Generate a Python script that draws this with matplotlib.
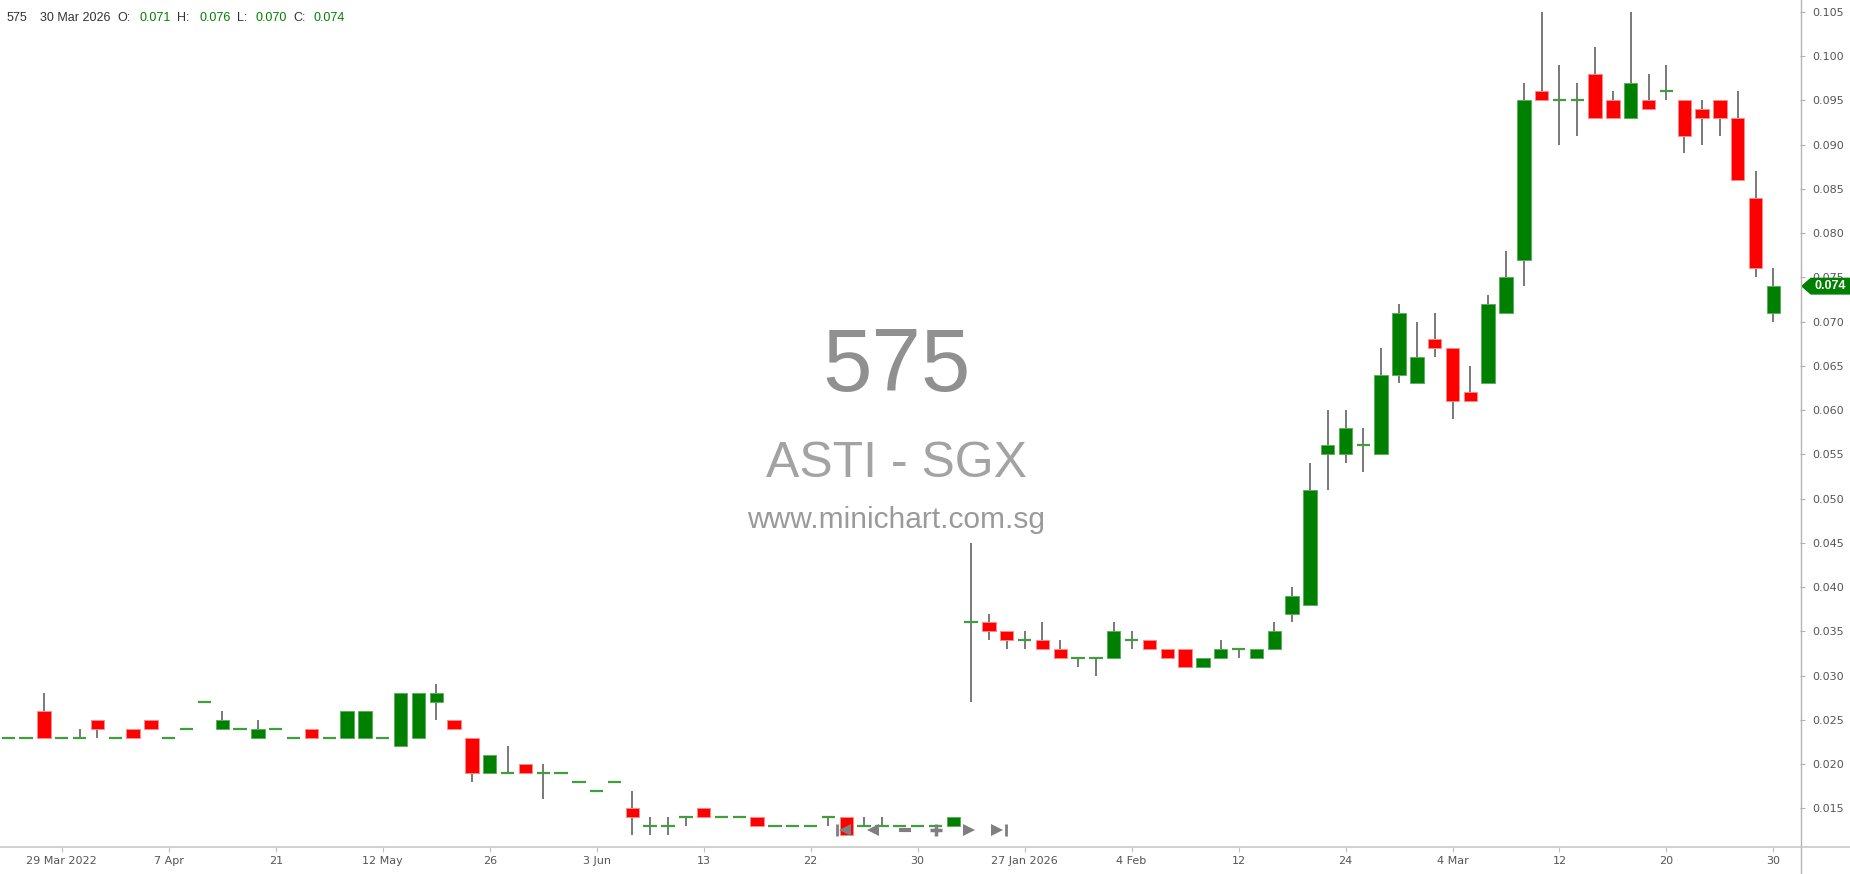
import matplotlib
matplotlib.use('Agg')
import matplotlib.pyplot as plt
import numpy as np
from matplotlib.lines import Line2D
from matplotlib.patches import Polygon
from matplotlib.transforms import blended_transform_factory

# OHLC per trading day (2022 block, then 2026 block after the suspension)
opens = [0.023, 0.023, 0.026, 0.023, 0.023, 0.025, 0.023, 0.024, 0.025, 0.023,
         0.024, 0.027, 0.024, 0.024, 0.023, 0.024, 0.023, 0.024, 0.023, 0.023,
         0.023, 0.023, 0.022, 0.023, 0.027, 0.025, 0.023, 0.019, 0.019, 0.020,
         0.019, 0.019, 0.018, 0.017, 0.018, 0.015, 0.013, 0.013, 0.014, 0.015,
         0.014, 0.014, 0.014, 0.013, 0.013, 0.013, 0.014, 0.014, 0.013, 0.013,
         0.013, 0.013, 0.013, 0.013,
         0.036, 0.036, 0.035, 0.034, 0.034, 0.033, 0.032, 0.032, 0.032, 0.034,
         0.034, 0.033, 0.033, 0.031, 0.032, 0.033, 0.032, 0.033, 0.037, 0.038,
         0.055, 0.055, 0.056, 0.055, 0.064, 0.063, 0.068, 0.067, 0.062, 0.063,
         0.071, 0.077, 0.096, 0.095, 0.095, 0.098, 0.095, 0.093, 0.095, 0.096,
         0.095, 0.094, 0.095, 0.093, 0.084, 0.071]
highs = [0.023, 0.023, 0.028, 0.023, 0.024, 0.025, 0.023, 0.024, 0.025, 0.023,
         0.024, 0.027, 0.026, 0.024, 0.025, 0.024, 0.023, 0.024, 0.023, 0.026,
         0.026, 0.023, 0.028, 0.028, 0.029, 0.025, 0.023, 0.021, 0.022, 0.020,
         0.020, 0.019, 0.018, 0.017, 0.018, 0.017, 0.014, 0.014, 0.014, 0.015,
         0.014, 0.014, 0.014, 0.013, 0.013, 0.013, 0.014, 0.014, 0.014, 0.014,
         0.013, 0.013, 0.013, 0.014,
         0.045, 0.037, 0.035, 0.035, 0.036, 0.034, 0.032, 0.032, 0.036, 0.035,
         0.034, 0.033, 0.033, 0.032, 0.034, 0.033, 0.033, 0.036, 0.040, 0.054,
         0.060, 0.060, 0.058, 0.067, 0.072, 0.070, 0.071, 0.067, 0.065, 0.073,
         0.078, 0.097, 0.105, 0.099, 0.097, 0.101, 0.096, 0.105, 0.098, 0.099,
         0.095, 0.095, 0.095, 0.096, 0.087, 0.076]
lows = [0.023, 0.023, 0.023, 0.023, 0.023, 0.023, 0.023, 0.023, 0.024, 0.023,
        0.024, 0.027, 0.024, 0.024, 0.023, 0.024, 0.023, 0.023, 0.023, 0.023,
        0.023, 0.023, 0.022, 0.023, 0.025, 0.024, 0.018, 0.019, 0.019, 0.019,
        0.016, 0.019, 0.018, 0.017, 0.018, 0.012, 0.012, 0.012, 0.013, 0.014,
        0.014, 0.014, 0.013, 0.013, 0.013, 0.013, 0.013, 0.012, 0.013, 0.013,
        0.013, 0.013, 0.013, 0.013,
        0.027, 0.034, 0.033, 0.033, 0.033, 0.032, 0.031, 0.030, 0.032, 0.033,
        0.033, 0.032, 0.031, 0.031, 0.032, 0.032, 0.032, 0.033, 0.036, 0.038,
        0.051, 0.054, 0.053, 0.055, 0.063, 0.063, 0.066, 0.059, 0.061, 0.063,
        0.071, 0.074, 0.095, 0.090, 0.091, 0.093, 0.093, 0.093, 0.094, 0.095,
        0.089, 0.090, 0.091, 0.086, 0.075, 0.070]
closes = [0.023, 0.023, 0.023, 0.023, 0.023, 0.024, 0.023, 0.023, 0.024, 0.023,
          0.024, 0.027, 0.025, 0.024, 0.024, 0.024, 0.023, 0.023, 0.023, 0.026,
          0.026, 0.023, 0.028, 0.028, 0.028, 0.024, 0.019, 0.021, 0.019, 0.019,
          0.019, 0.019, 0.018, 0.017, 0.018, 0.014, 0.013, 0.013, 0.014, 0.014,
          0.014, 0.014, 0.013, 0.013, 0.013, 0.013, 0.014, 0.012, 0.013, 0.013,
          0.013, 0.013, 0.013, 0.014,
          0.036, 0.035, 0.034, 0.034, 0.033, 0.032, 0.032, 0.032, 0.035, 0.034,
          0.033, 0.032, 0.031, 0.032, 0.033, 0.033, 0.033, 0.035, 0.039, 0.051,
          0.056, 0.058, 0.056, 0.064, 0.071, 0.066, 0.067, 0.061, 0.061, 0.072,
          0.075, 0.095, 0.095, 0.095, 0.095, 0.093, 0.093, 0.097, 0.094, 0.096,
          0.091, 0.093, 0.093, 0.086, 0.076, 0.074]

tick_labels = ['29 Mar 2022', '7 Apr', '21', '12 May', '26', '3 Jun', '13', '22', '30',
               '27 Jan 2026', '4 Feb', '12', '24', '4 Mar', '12', '20', '30']
y_ticks = [0.015, 0.020, 0.025, 0.030, 0.035, 0.040, 0.045, 0.050, 0.055, 0.060,
           0.065, 0.070, 0.075, 0.080, 0.085, 0.090, 0.095, 0.100, 0.105]

symbol = '575'
name = 'ASTI - SGX'
site = 'www.minichart.com.sg'
last_date = '30 Mar 2026'

W, H = 1850, 874
GREEN = '#008000'
RED = '#ff0000'
WICK = '#6e6e6e'

o = np.array(opens)
h = np.array(highs)
l = np.array(lows)
c = np.array(closes)
x = np.arange(len(o))
up = c > o
down = c < o
flat = c == o
bw = 0.75

fig = plt.figure(figsize=(W / 100, H / 100), dpi=100)
ax = fig.add_axes([0, 1 - 847 / H, 1800 / W, 847 / H])

# wicks, then bodies, then flat (open == close) dashes
wk = h > l
ax.vlines(x[wk], l[wk], h[wk], color=WICK, lw=1.3, zorder=1)
ax.bar(x[up], (c - o)[up], bottom=o[up], width=bw, color=GREEN,
       edgecolor='#5fae5f', lw=0.7, zorder=2)
ax.bar(x[down], (o - c)[down], bottom=c[down], width=bw, color=RED,
       edgecolor='#ff8a8a', lw=0.7, zorder=2)
ax.hlines(o[flat], x[flat] - bw / 2, x[flat] + bw / 2, color='#3f9f3f', lw=1.6, zorder=3)

ax.set_xlim(-0.466, 100.49)
ax.set_ylim(0.01063, 0.10633)
for s in ax.spines.values():
    s.set_visible(False)

ax.yaxis.tick_right()
ax.set_yticks(y_ticks)
ax.set_yticklabels([f'{v:.3f}' for v in y_ticks])
ax.tick_params(axis='y', direction='out', length=3.6, width=0.8, color='#b0b0b0',
               labelcolor='#555555', labelsize=8, pad=5)
ax.set_xticks(np.arange(3, len(o), 6))
ax.set_xticklabels(tick_labels)
ax.tick_params(axis='x', direction='out', length=3.6, width=0.8, color='#c0c0c0',
               labelcolor='#555555', labelsize=8, pad=3)

# frame lines running to the figure edges
fig.add_artist(Line2D([1800.5 / W] * 2, [0, 1], color='#b4b4b4', lw=1, transform=fig.transFigure))
fig.add_artist(Line2D([0, 1], [1 - 847 / H] * 2, color='#c8c8c8', lw=1.2, transform=fig.transFigure))

# watermark
ax.text(0.498, 0.566, symbol, transform=ax.transAxes, ha='center', va='center',
        fontsize=64, color='#909090', family='Liberation Sans', zorder=0)
ax.text(0.498, 0.452, name, transform=ax.transAxes, ha='center', va='center',
        fontsize=36, color='#a3a3a3', family='Liberation Sans', zorder=0)
ax.text(0.498, 0.386, site, transform=ax.transAxes, ha='center', va='center',
        fontsize=21.5, color='#9a9a9a', family='Liberation Sans', zorder=0)

# header line
hy = 1 - 18 / H
hdr = [(7, symbol, '#333333'), (40, last_date, '#333333'),
       (117, 'O:', '#333333'), (139, f'{opens[-1]:.3f}', GREEN),
       (177, 'H:', '#333333'), (199, f'{highs[-1]:.3f}', GREEN),
       (237, 'L:', '#333333'), (255, f'{lows[-1]:.3f}', GREEN),
       (293, 'C:', '#333333'), (313, f'{closes[-1]:.3f}', GREEN)]
for px, txt, col in hdr:
    fig.text(px / W, hy, txt, ha='left', va='center', fontsize=9, color=col,
             family='Liberation Sans')

# last price tag on the right axis
tr = blended_transform_factory(ax.transAxes, ax.transData)
last = closes[-1]
dh = 0.00088
x0, x1, x2 = 1802 / 1800, 1811 / 1800, 1850 / 1800
ax.add_patch(Polygon([(x0, last), (x1, last + dh), (x2, last + dh), (x2, last - dh), (x1, last - dh)],
                     closed=True, color=GREEN, transform=tr, clip_on=False, zorder=5))
ax.text(1830 / 1800, last, f'{last:.3f}', transform=tr, ha='center', va='center',
        fontsize=9, color='white', fontweight='bold', clip_on=False, zorder=6,
        family='Liberation Sans')

# navigation buttons
ny = 1 - 830 / H
navc = '#7f7f7f'
def nav(px, marker, ms, mew=0):
    fig.add_artist(Line2D([px / W], [ny], marker=marker, ms=ms, color=navc, mec=navc,
                          mew=mew, ls='none', transform=fig.transFigure, zorder=10))
nav(837, '|', 9, 2)
nav(845, '<', 8)
nav(873, '<', 8)
nav(905, '_', 9, 3)
nav(936, '+', 9, 2.5)
nav(969, '>', 8)
nav(997, '>', 8)
nav(1006, '|', 9, 2)

fig.savefig('out.png', dpi=100, facecolor='white')
